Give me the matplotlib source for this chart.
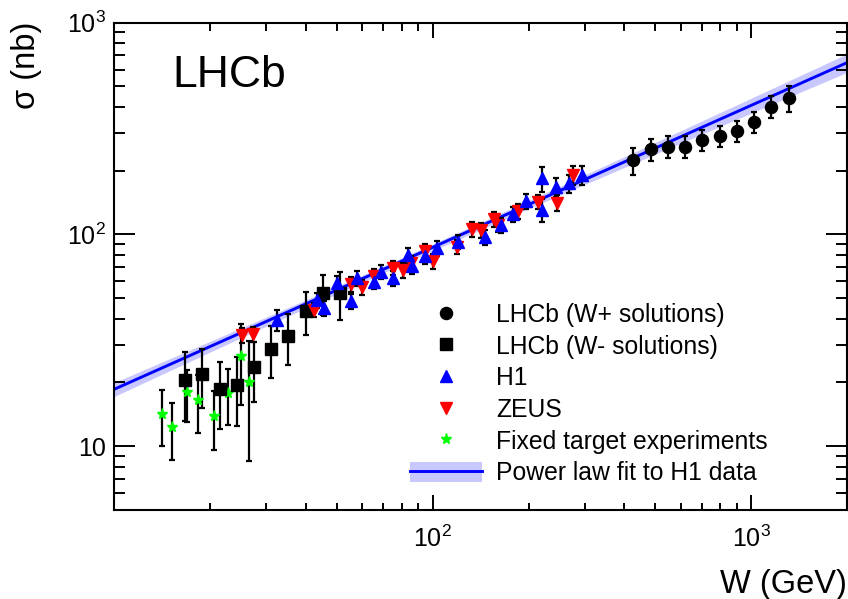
import numpy as np
import matplotlib
matplotlib.use("Agg")
import matplotlib.pyplot as plt
from matplotlib.lines import Line2D
from matplotlib.patches import Patch
from matplotlib.ticker import LogLocator, FuncFormatter, NullFormatter

plt.rcParams['font.family'] = ['Liberation Sans', 'DejaVu Sans']
plt.rcParams['mathtext.fontset'] = 'custom'
plt.rcParams['mathtext.rm'] = 'Liberation Sans'
plt.rcParams['mathtext.it'] = 'Liberation Sans:italic'
plt.rcParams['mathtext.bf'] = 'Liberation Sans:bold'

# ---------------- data ----------------
# LHCb, W+ solutions
lhcb_p_W = [426, 483, 547, 620, 703, 796, 902, 1021, 1156, 1311]
lhcb_p_sig = [224, 253, 260, 260, 279, 292, 309, 339, 401, 439]
lhcb_p_err = [33, 30, 30, 30, 31, 33, 35, 39, 48, 62]

# LHCb, W- solutions
lhcb_m_W = [16.7, 18.8, 21.4, 24.2, 27.4, 31.0, 35.2, 39.9, 45.1, 51.1]
lhcb_m_sig = [20.5, 22.0, 18.6, 19.5, 23.7, 28.9, 33.2, 43.6, 53.0, 53.0]
lhcb_m_err = [7.4, 6.8, 6.5, 7.0, 7.5, 8.0, 9.0, 10.0, 11.5, 13.7]

# H1
h1_W = [32.4, 43.4, 45.5, 49.9, 55.2, 57.8, 65.2, 68.9, 75.0, 83.7, 86.1, 94.6,
        103.5, 120.2, 145.6, 164.3, 178.3, 195.7, 220.8, 220.8, 244.1, 267.2, 293.5]
h1_sig = [39.4, 49.0, 44.7, 58.8, 48.5, 62.0, 59.8, 66.7, 62.2, 79.8, 70.8, 79.0,
          86.1, 92.3, 97.1, 110.6, 124.7, 143.6, 183.9, 130.3, 167.8, 174.2, 190.5]
h1_err = [4.5, 3.9, 3.6, 4.7, 3.9, 5.0, 4.8, 5.3, 5.0, 6.4, 5.7, 6.3,
          6.9, 7.4, 7.8, 8.8, 10.0, 11.5, 25.0, 16.0, 17.0, 17.0, 19.0]

# ZEUS
zeus_W = [25.1, 27.2, 42.4, 55.2, 60.1, 65.2, 75.2, 80.5, 85.5, 94.3, 100.4, 118.9,
          133.2, 141.6, 155.4, 160.6, 185.1, 213.8, 245.0, 274.8]
zeus_sig = [33.4, 33.8, 44.2, 58.2, 56.4, 63.5, 69.7, 67.6, 72.9, 83.4, 74.8, 87.4,
            105.9, 104.8, 118.1, 111.2, 128.8, 142.6, 141.0, 190.5]
zeus_err = [2.7, 2.7, 3.5, 4.7, 4.5, 5.1, 5.6, 5.4, 5.8, 6.7, 6.0, 7.0,
            8.5, 8.4, 9.4, 8.9, 10.3, 11.4, 12.7, 20.0]

# Fixed target experiments
ft_W = [14.1, 15.2, 16.9, 18.3, 20.5, 22.8, 25.0, 26.5]
ft_sig = [14.2, 12.3, 18.0, 16.6, 13.9, 17.9, 26.7, 20.0]
ft_err = [4.2, 3.7, 5.0, 5.0, 4.3, 5.3, 11.0, 11.5]

# Power law fit to H1 data: sigma = N (W/W0)^delta
fit_N, fit_dN = 81.0, 3.0
fit_delta, fit_ddelta = 0.67, 0.03
fit_W0 = 90.0

legend_labels = ["LHCb (W+ solutions)", "LHCb (W- solutions)", "H1", "ZEUS",
                 "Fixed target experiments", "Power law fit to H1 data"]

# ---------------- figure ----------------
W_PX, H_PX = 848, 599
fig = plt.figure(figsize=(W_PX / 100, H_PX / 100), dpi=100)
ax = fig.add_axes([114.3 / W_PX, 1 - 510 / H_PX, (847 - 114.3) / W_PX, (510 - 22.6) / H_PX])
ax.set_xscale('log')
ax.set_yscale('log')
ax.set_xlim(10, 2000)
ax.set_ylim(5, 1000)

band_col = '#c8c8ff'
line_col = '#0000ff'

# fit band + line
Wf = np.logspace(1, np.log10(2000), 300)
lnr = np.log(Wf / fit_W0)
sf = fit_N * (Wf / fit_W0) ** fit_delta
rel = np.sqrt((fit_dN / fit_N) ** 2 + (fit_ddelta * lnr) ** 2)
ax.fill_between(Wf, sf * (1 - rel), sf * (1 + rel), color=band_col, lw=0, zorder=1)
ax.plot(Wf, sf, color=line_col, lw=2.1, zorder=1.5)

eb_kw = dict(ls='none', ecolor='k', elinewidth=1.6, capsize=2.0, capthick=1.6)

ax.errorbar(ft_W, ft_sig, yerr=ft_err, fmt='*', color='#00ff00', mec='#00ff00', ms=8, zorder=3, **eb_kw)
ax.errorbar(lhcb_m_W, lhcb_m_sig, yerr=lhcb_m_err, fmt='s', color='k', ms=8.5, zorder=3, **eb_kw)
ax.errorbar(zeus_W, zeus_sig, yerr=zeus_err, fmt='v', color='#ff0000', mec='#ff0000', ms=8, zorder=3, **eb_kw)
ax.errorbar(h1_W, h1_sig, yerr=h1_err, fmt='^', color='#0000ff', mec='#0000ff', ms=8, zorder=3, **eb_kw)
ax.errorbar(lhcb_p_W, lhcb_p_sig, yerr=lhcb_p_err, fmt='o', color='k', ms=8.7, zorder=3, **eb_kw)

# ticks
ax.xaxis.set_major_locator(LogLocator(base=10, numticks=10))
ax.xaxis.set_minor_locator(LogLocator(base=10, subs=np.arange(2, 10), numticks=20))
ax.yaxis.set_major_locator(LogLocator(base=10, numticks=10))
ax.yaxis.set_minor_locator(LogLocator(base=10, subs=np.arange(2, 10), numticks=20))

def fmt_y(v, pos):
    e = int(round(np.log10(v)))
    if e == 1:
        return '10'
    return r'$10^{%d}$' % e

def fmt_x(v, pos):
    e = int(round(np.log10(v)))
    if e == 1:
        return ''
    return r'$10^{%d}$' % e

ax.xaxis.set_major_formatter(FuncFormatter(fmt_x))
ax.yaxis.set_major_formatter(FuncFormatter(fmt_y))
ax.xaxis.set_minor_formatter(NullFormatter())
ax.yaxis.set_minor_formatter(NullFormatter())

ax.tick_params(axis='both', which='both', direction='in', top=True, right=True, width=1.4)
ax.tick_params(axis='x', which='major', length=10.8, labelsize=18, pad=11)
ax.tick_params(axis='x', which='minor', length=5.4)
ax.tick_params(axis='y', which='major', length=15, labelsize=18, pad=6)
ax.tick_params(axis='y', which='minor', length=8)
for sp in ax.spines.values():
    sp.set_linewidth(1.5)

# labels
fig.text(846.5 / W_PX, 1 - 593 / H_PX, 'W (GeV)', ha='right', va='baseline', fontsize=23.5)
fig.text(26 / W_PX, 1 - 22 / H_PX, 'σ (nb)', rotation=90, ha='center', va='top', fontsize=23.5)
fig.text(172 / W_PX, 1 - 87 / H_PX, 'LHCb', ha='left', va='baseline', fontsize=32)

# legend
handles = [
    Line2D([], [], ls='none', marker='o', color='k', ms=8.7),
    Line2D([], [], ls='none', marker='s', color='k', ms=8.5),
    Line2D([], [], ls='none', marker='^', color='#0000ff', ms=8),
    Line2D([], [], ls='none', marker='v', color='#ff0000', ms=8),
    Line2D([], [], ls='none', marker='*', color='#00ff00', ms=8),
    (Patch(facecolor=band_col, edgecolor='none'), Line2D([], [], color=line_col, lw=2.1)),
]
leg = ax.legend(handles, legend_labels, loc='upper left',
                bbox_to_anchor=(410 / W_PX, 1 - 303 / H_PX), bbox_transform=fig.transFigure,
                frameon=False, fontsize=17.8, borderpad=0, borderaxespad=0,
                handlelength=2.9, handletextpad=0.59, labelspacing=0.31, handleheight=0.9)

fig.savefig('out.png', dpi=100)
